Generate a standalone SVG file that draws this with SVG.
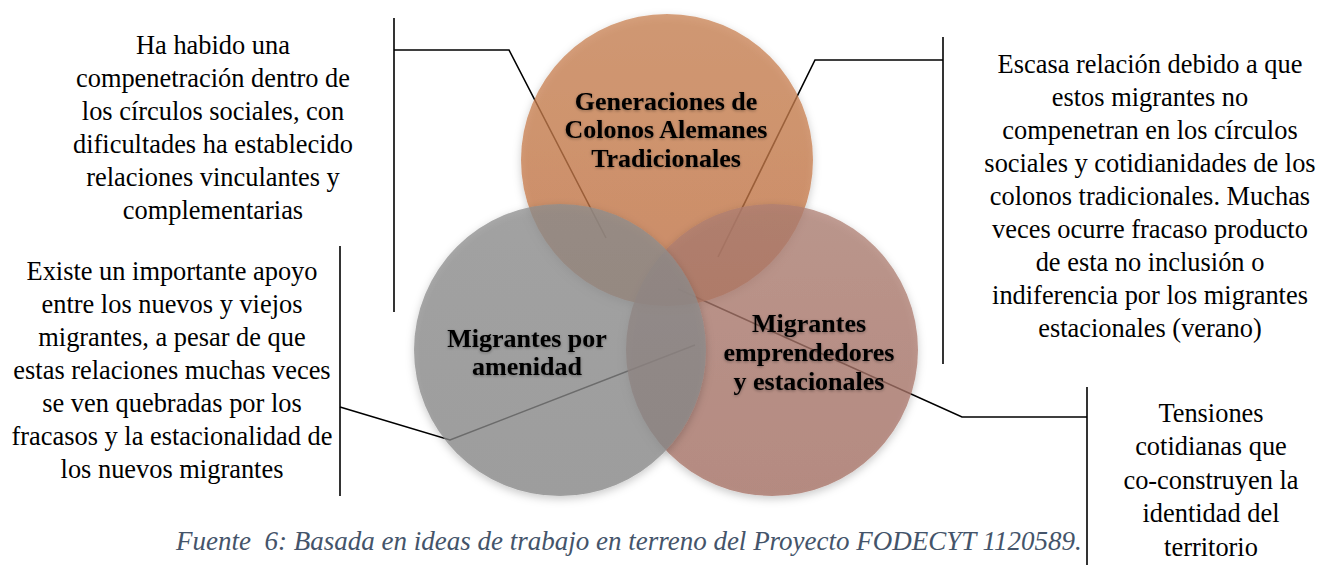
<svg xmlns="http://www.w3.org/2000/svg" width="1320" height="565" viewBox="0 0 1320 565">
<style>
text{font-family:"Liberation Serif","DejaVu Serif",serif}
.t{font-size:26.4px;fill:#000;text-anchor:middle}
.h{font-size:26px;font-weight:bold;fill:#000;text-anchor:middle}
.ln{fill:none;stroke:#000;stroke-width:1.6}
.cap{font-size:27px;font-style:italic;fill:#44546A}
</style>
<defs>
<filter id="sh" x="-20%" y="-20%" width="140%" height="140%">
<feDropShadow dx="0" dy="3" stdDeviation="4" flood-color="#000" flood-opacity="0.28"/>
</filter>
<filter id="ts" x="-10%" y="-30%" width="120%" height="160%">
<feDropShadow dx="0" dy="1" stdDeviation="1.5" flood-color="#000" flood-opacity="0.35"/>
</filter>
<linearGradient id="gTop" x1="0" y1="0" x2="0" y2="1">
<stop offset="0" stop-color="#C98253"/>
<stop offset="1" stop-color="#C47242"/>
</linearGradient>
<linearGradient id="gRight" x1="0" y1="0" x2="0" y2="1">
<stop offset="0" stop-color="#AE7E72"/>
<stop offset="1" stop-color="#A67064"/>
</linearGradient>
<linearGradient id="gLeft" x1="0" y1="0" x2="0" y2="1">
<stop offset="0" stop-color="#8E8E8E"/>
<stop offset="1" stop-color="#888888"/>
</linearGradient>
</defs>
<g id="connectors">
<polyline class="ln" points="394,18 394,312"/>
<polyline class="ln" points="394,50 509,50 606,238"/>
<polyline class="ln" points="943,37 943,364"/>
<polyline class="ln" points="943,60 815,60 718,257"/>
<polyline class="ln" points="340,246 340,496"/>
<polyline class="ln" points="340,407 450,440 695,345"/>
<polyline class="ln" points="1087,387 1087,565"/>
<polyline class="ln" points="1087,417 962,417 678,289"/>
</g>
<g id="circle-top" filter="url(#sh)">
<circle cx="667" cy="160" r="146" fill="url(#gTop)" opacity="0.75"/>
</g>
<g id="circle-right" filter="url(#sh)">
<circle cx="772" cy="350" r="146" fill="url(#gRight)" opacity="0.75"/>
</g>
<g id="circle-left" filter="url(#sh)">
<circle cx="560" cy="350" r="146" fill="url(#gLeft)" opacity="0.75"/>
</g>
<g id="label-top" filter="url(#ts)">
<text class="h" x="666" y="110">Generaciones de</text>
<text class="h" x="666" y="138">Colonos Alemanes</text>
<text class="h" x="666" y="167">Tradicionales</text>
</g>
<g id="label-left" filter="url(#ts)">
<text class="h" x="527" y="347">Migrantes por</text>
<text class="h" x="527" y="375">amenidad</text>
</g>
<g id="label-right" filter="url(#ts)">
<text class="h" x="809" y="332">Migrantes</text>
<text class="h" x="809" y="361">emprendedores</text>
<text class="h" x="809" y="390">y estacionales</text>
</g>
<g id="note-top-left">
<text class="t" x="213" y="54">Ha habido una</text>
<text class="t" x="213" y="87">compenetración dentro de</text>
<text class="t" x="213" y="120">los círculos sociales, con</text>
<text class="t" x="213" y="153">dificultades ha establecido</text>
<text class="t" x="213" y="186">relaciones vinculantes y</text>
<text class="t" x="213" y="219">complementarias</text>
</g>
<g id="note-top-right">
<text class="t" x="1150" y="73">Escasa relación debido a que</text>
<text class="t" x="1150" y="106">estos migrantes no</text>
<text class="t" x="1150" y="139">compenetran en los círculos</text>
<text class="t" x="1150" y="172">sociales y cotidianidades de los</text>
<text class="t" x="1150" y="205">colonos tradicionales. Muchas</text>
<text class="t" x="1150" y="238">veces ocurre fracaso producto</text>
<text class="t" x="1150" y="271">de esta no inclusión o</text>
<text class="t" x="1150" y="304">indiferencia por los migrantes</text>
<text class="t" x="1150" y="337">estacionales (verano)</text>
</g>
<g id="note-bottom-left">
<text class="t" x="172" y="280">Existe un importante apoyo</text>
<text class="t" x="172" y="313">entre los nuevos y viejos</text>
<text class="t" x="172" y="346">migrantes, a pesar de que</text>
<text class="t" x="172" y="379">estas relaciones muchas veces</text>
<text class="t" x="172" y="412">se ven quebradas por los</text>
<text class="t" x="172" y="445">fracasos y la estacionalidad de</text>
<text class="t" x="172" y="478">los nuevos migrantes</text>
</g>
<g id="note-bottom-right">
<text class="t" x="1211" y="422">Tensiones</text>
<text class="t" x="1211" y="455">cotidianas que</text>
<text class="t" x="1211" y="489">co-construyen la</text>
<text class="t" x="1211" y="522">identidad del</text>
<text class="t" x="1211" y="556">territorio</text>
</g>
<text class="cap" x="176" y="550" xml:space="preserve">Fuente  6: Basada en ideas de trabajo en terreno del Proyecto FODECYT 1120589.</text>
</svg>
